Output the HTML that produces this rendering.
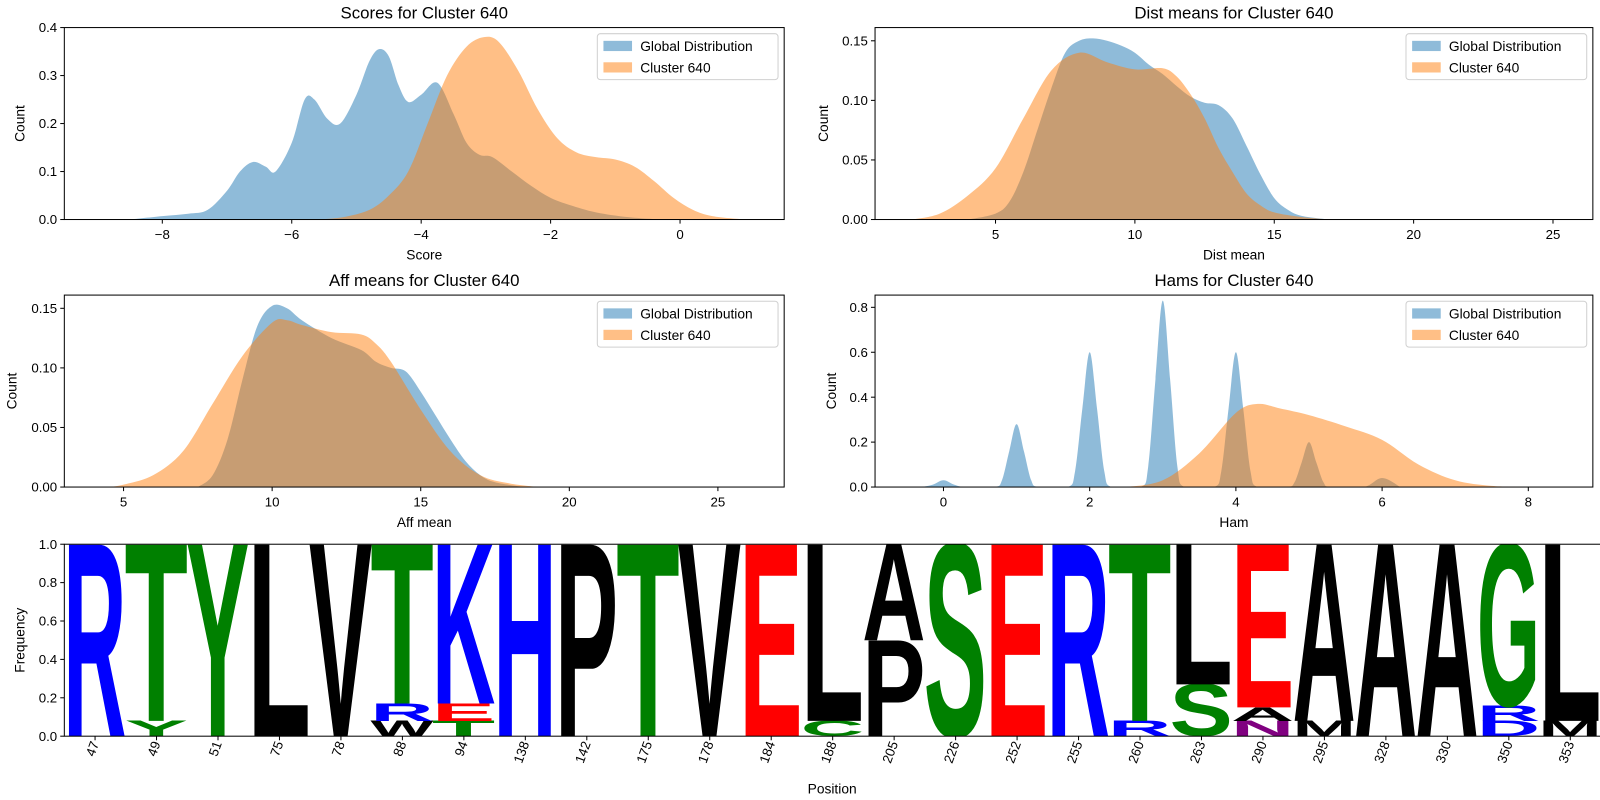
<!DOCTYPE html>
<html><head><meta charset="utf-8"><style>
html,body{margin:0;padding:0;background:#fff;overflow:hidden;width:1600px;height:800px}
svg{display:block}
svg text{font-family:"Liberation Sans","DejaVu Sans",sans-serif;fill:#000}
</style></head><body>
<svg id="chart" width="1600" height="800" viewBox="0 0 1567 783.5" preserveAspectRatio="none" xmlns="http://www.w3.org/2000/svg"></svg>
<script>
// ---------- data ----------
const scoreX_glob=[-8.5,-8,-7.6,-7.3,-7.0,-6.8,-6.6,-6.4,-6.25,-6.0,-5.8,-5.65,-5.45,-5.25,-5.0,-4.8,-4.65,-4.5,-4.35,-4.2,-4.0,-3.75,-3.5,-3.3,-3.1,-2.9,-2.6,-2.3,-2.0,-1.7,-1.3,-0.8,-0.3];
const scoreY_glob=[0,0.007,0.012,0.02,0.06,0.1,0.12,0.11,0.1,0.16,0.25,0.25,0.21,0.2,0.26,0.33,0.355,0.34,0.28,0.245,0.26,0.285,0.22,0.16,0.135,0.13,0.1,0.07,0.045,0.03,0.015,0.005,0];
const scoreX_clu=[-5.6,-5.2,-4.8,-4.5,-4.2,-3.9,-3.6,-3.3,-3.03,-2.8,-2.5,-2.2,-1.9,-1.6,-1.3,-1.0,-0.7,-0.4,-0.1,0.2,0.5,1.0];
const scoreY_clu=[0,0.005,0.02,0.05,0.1,0.2,0.3,0.36,0.38,0.37,0.31,0.23,0.17,0.14,0.13,0.125,0.11,0.08,0.045,0.02,0.007,0];
const distX_glob=[4,5,5.5,6,6.5,7,7.5,8,8.5,9,9.5,10,10.5,11,11.5,12,12.5,13,13.5,14,14.5,15,15.5,16,17];
const distY_glob=[0,0.005,0.015,0.04,0.075,0.11,0.14,0.15,0.152,0.15,0.146,0.14,0.13,0.122,0.112,0.103,0.098,0.096,0.085,0.062,0.038,0.018,0.008,0.003,0];
const distX_clu=[2,3,4,5,6,7,8,9,10,11,11.5,12,12.5,13,13.5,14,14.5,15,16,17];
const distY_clu=[0,0.005,0.02,0.043,0.085,0.125,0.14,0.132,0.126,0.127,0.12,0.105,0.085,0.06,0.04,0.022,0.012,0.006,0.002,0];
const affX_glob=[7.5,8,8.5,9,9.5,10,10.5,11,12,13,13.5,14,14.5,15,15.5,16,16.5,17,17.5,18.5];
const affY_glob=[0,0.01,0.04,0.09,0.135,0.152,0.15,0.14,0.125,0.115,0.105,0.1,0.097,0.08,0.06,0.04,0.022,0.01,0.004,0];
const affX_clu=[4.5,5,6,7,8,9,10,10.5,11,12,13,13.5,14,15,16,17,18,19];
const affY_clu=[0,0.002,0.01,0.03,0.07,0.11,0.138,0.14,0.136,0.13,0.128,0.12,0.105,0.065,0.03,0.01,0.003,0];
const hamX_glob=[-0.3,-0.15,0,0.15,0.3,0.7,0.8,0.9,1,1.1,1.2,1.3,1.7,1.8,1.9,2,2.1,2.2,2.3,2.7,2.8,2.9,3,3.1,3.2,3.3,3.7,3.8,3.9,4,4.1,4.2,4.3,4.7,4.8,4.9,5,5.1,5.2,5.3,5.75,6,6.25];
const hamY_glob=[0,0.01,0.03,0.01,0,0,0.03,0.16,0.28,0.16,0.03,0,0,0.07,0.35,0.6,0.35,0.07,0,0,0.09,0.48,0.83,0.48,0.09,0,0,0.07,0.35,0.6,0.35,0.07,0,0,0.02,0.11,0.2,0.11,0.02,0,0,0.04,0];
const hamX_clu=[2.5,3,3.5,4,4.3,4.6,5,5.5,6,6.5,7,7.5,8];
const hamY_clu=[0,0.03,0.15,0.33,0.37,0.35,0.32,0.27,0.21,0.1,0.03,0.005,0];
const positions=["47","49","51","75","78","88","94","138","142","175","178","184","188","205","226","252","255","260","263","290","295","328","330","350","353"];
const stackLetters=[["R"],["Y","T"],["Y"],["L"],["V"],["W","R","T"],["T","E","K"],["H"],["P"],["T"],["V"],["E"],["C","L"],["P","A"],["S"],["E"],["R"],["R","T"],["S","L"],["N","A","E"],["M","A"],["A"],["A"],["D","R","G"],["M","L"]];
const stackFreqs=[[1],[0.08,0.92],[1],[1],[1],[0.08,0.09,0.83],[0.08,0.09,0.83],[1],[1],[1],[1],[1],[0.08,0.92],[0.5,0.5],[1],[1],[1],[0.08,0.92],[0.27,0.73],[0.08,0.07,0.85],[0.08,0.92],[1],[1],[0.08,0.08,0.84],[0.08,0.92]];
const xt1=[-8,-6,-4,-2,0], yt1=[0,0.1,0.2,0.3,0.4], yl1=["0.0","0.1","0.2","0.3","0.4"];
const xt2=[5,10,15,20,25], yt2=[0,0.05,0.1,0.15], yl2=["0.00","0.05","0.10","0.15"];
const xt4=[0,2,4,6,8], yt4=[0,0.2,0.4,0.6,0.8], yl4=["0.0","0.2","0.4","0.6","0.8"];
const ytL=[0,0.2,0.4,0.6,0.8,1.0], ylL=["0.0","0.2","0.4","0.6","0.8","1.0"];
const letterColor={R:"#0000ff",K:"#0000ff",H:"#0000ff",D:"#0000ff",T:"#008000",Y:"#008000",S:"#008000",G:"#008000",C:"#008000",E:"#ff0000",N:"#800080"};

// ---------- helpers ----------
const NS="http://www.w3.org/2000/svg";
const svg=document.getElementById('chart');
function el(tag,attrs,parent){const e=document.createElementNS(NS,tag);for(const k in attrs)e.setAttribute(k,attrs[k]);(parent||svg).appendChild(e);return e;}
function txt(s,attrs,parent){const e=el('text',attrs,parent);e.textContent=s;return e;}
function smooth(pts){let d=`M${pts[0][0]},${pts[0][1]}`;for(let i=0;i<pts.length-1;i++){const p0=pts[Math.max(0,i-1)],p1=pts[i],p2=pts[i+1],p3=pts[Math.min(pts.length-1,i+2)];const c1x=p1[0]+(p2[0]-p0[0])/6,c1y=p1[1]+(p2[1]-p0[1])/6,c2x=p2[0]-(p3[0]-p1[0])/6,c2y=p2[1]-(p3[1]-p1[1])/6;d+=`C${c1x},${c1y} ${c2x},${c2y} ${p2[0]},${p2[1]}`;}return d;}

function makeAxes(name,box,xd,yd,xt,xl,yt,yl,title,xlabel){
  const g=el('g',{});
  
  
  const sx=v=>box.x0+(v-xd[0])/(xd[1]-xd[0])*(box.x1-box.x0);
  const sy=v=>box.y1-(v-yd[0])/(yd[1]-yd[0])*(box.y1-box.y0);
  const clipId=name+'-clip';
  const cp=el('clipPath',{id:clipId},g);el('rect',{x:box.x0,y:box.y0,width:box.x1-box.x0,height:box.y1-box.y0},cp);
  const plot=el('g',{'clip-path':`url(#${clipId})`},g);
  const ax={g,plot,sx,sy,box};
  ax.finish=function(){
    el('rect',{x:box.x0,y:box.y0,width:box.x1-box.x0,height:box.y1-box.y0,fill:'none',stroke:'#000','stroke-width':1},g);
    xt.forEach((v,i)=>{const x=sx(v);el('line',{x1:x,x2:x,y1:box.y1,y2:box.y1+4,stroke:'#000'},g);
      if(xl){const t=txt(xl[i],{x:x,y:box.y1+19,'font-size':13,'text-anchor':'middle'},g);}});
    yt.forEach((v,i)=>{const y=sy(v);el('line',{x1:box.x0-4,x2:box.x0,y1:y,y2:y,stroke:'#000'},g);
      const t=txt(yl[i],{x:box.x0-7,y:y+4.5,'font-size':13,'text-anchor':'end'},g);});
    if(title){const t=txt(title,{x:(box.x0+box.x1)/2,y:box.y0-9,'font-size':16.5,'text-anchor':'middle'},g);}
    if(xlabel){const t=txt(xlabel,{x:(box.x0+box.x1)/2,y:box.y1+39,'font-size':13.5,'text-anchor':'middle'},g);}
  };
  return ax;
}
function kde(ax,xs,ys,color,name){
  const pts=xs.map((x,i)=>[ax.sx(x),ax.sy(ys[i])]);
  const d=smooth(pts)+`L${ax.sx(xs[xs.length-1])},${ax.sy(0)}L${ax.sx(xs[0])},${ax.sy(0)}Z`;
  const p=el('path',{d,fill:color,'fill-opacity':0.5,stroke:'none'},ax.plot);
  
  
}
function legend(ax){
  const x=ax.box.x1-183,y=ax.box.y0+6;
  const g=el('g',{},ax.g);
  
  
  el('rect',{x,y,width:177,height:45,rx:3,fill:'#fff','fill-opacity':0.8,stroke:'#d0d0d0'},g);
  [['Global Distribution','#1f77b4'],['Cluster 640','#ff7f0e']].forEach((e,i)=>{
    const gi=el('g',{},g);
    
    
    el('rect',{x:x+6,y:y+7+i*21,width:28,height:10,fill:e[1],'fill-opacity':0.5},gi);
    txt(e[0],{x:x+42,y:y+17+i*21,'font-size':13.5},gi);
  });
}
function ylab(s,x,y){const t=txt(s,{x:0,y:0,'font-size':13.5,'text-anchor':'middle',transform:`translate(${x},${y}) rotate(-90)`});}

// ---------- panel 1 ----------
const a1=makeAxes('scores-panel',{x0:63,x1:768,y0:27,y1:215},[-9.514,1.609],[0,0.4],xt1,["\u22128","\u22126","\u22124","\u22122","0"],yt1,yl1,'Scores for Cluster 640','Score');
kde(a1,scoreX_glob,scoreY_glob,'#1f77b4','global-score-density');
kde(a1,scoreX_clu,scoreY_clu,'#ff7f0e','cluster-score-density');
a1.finish();legend(a1);ylab('Count',24,121);
// ---------- panel 2 ----------
const a2=makeAxes('dist-panel',{x0:857,x1:1560,y0:27,y1:215},[0.678,26.43],[0,0.1611],xt2,xt2.map(String),yt2,yl2,'Dist means for Cluster 640','Dist mean');
kde(a2,distX_glob,distY_glob,'#1f77b4','global-dist-density');
kde(a2,distX_clu,distY_clu,'#ff7f0e','cluster-dist-density');
a2.finish();legend(a2);ylab('Count',811,121);
// ---------- panel 3 ----------
const a3=makeAxes('aff-panel',{x0:63,x1:768,y0:289,y1:477},[3.007,27.23],[0,0.1611],xt2,xt2.map(String),yt2,yl2,'Aff means for Cluster 640','Aff mean');
kde(a3,affX_glob,affY_glob,'#1f77b4','global-aff-density');
kde(a3,affX_clu,affY_clu,'#ff7f0e','cluster-aff-density');
a3.finish();legend(a3);ylab('Count',16,383);
// ---------- panel 4 ----------
const a4=makeAxes('ham-panel',{x0:857,x1:1560,y0:289,y1:477},[-0.936,8.883],[0,0.8545],xt4,xt4.map(String),yt4,yl4,'Hams for Cluster 640','Ham');
kde(a4,hamX_glob,hamY_glob,'#1f77b4','global-ham-density');
kde(a4,hamX_clu,hamY_clu,'#ff7f0e','cluster-ham-density');
a4.finish();legend(a4);ylab('Count',819,383);
// ---------- logo ----------
const aL=makeAxes('sequence-logo',{x0:63,x1:1568,y0:533,y1:721},[-0.5,positions.length-0.5],[0,1],[],null,ytL,ylL,null,null);
const colW=(1568-63)/positions.length;
stackLetters.forEach((letters,i)=>{
  let cum=0;
  letters.forEach((L,j)=>{
    const f=stackFreqs[i][j];
    const yb=aL.sy(cum), h=aL.sy(0)-aL.sy(f);
    const x0=aL.sx(i)-colW/2-colW*0.02;
    const t=txt(L,{x:0,y:0,'font-size':100,'font-weight':'bold',textLength:colW*1.03,lengthAdjust:'spacingAndGlyphs',fill:letterColor[L]||'#000',transform:`translate(${x0},${yb}) scale(1,${h/69})`},aL.plot);
    t.style.fill=letterColor[L]||'#000';
    
    
    cum+=f;
  });
});
aL.finish();
positions.forEach((p,i)=>{const x=aL.sx(i);el('line',{x1:x,x2:x,y1:721,y2:725,stroke:'#000'},aL.g);
  const t=txt(p,{x:0,y:0,'font-size':13,'text-anchor':'end',transform:`translate(${x+4},${728}) rotate(-70)`},aL.g);
  
  });
const pl=txt('Position',{x:815,y:777,'font-size':13.5,'text-anchor':'middle'});


ylab('Frequency',24,627);
</script>
</body></html>
